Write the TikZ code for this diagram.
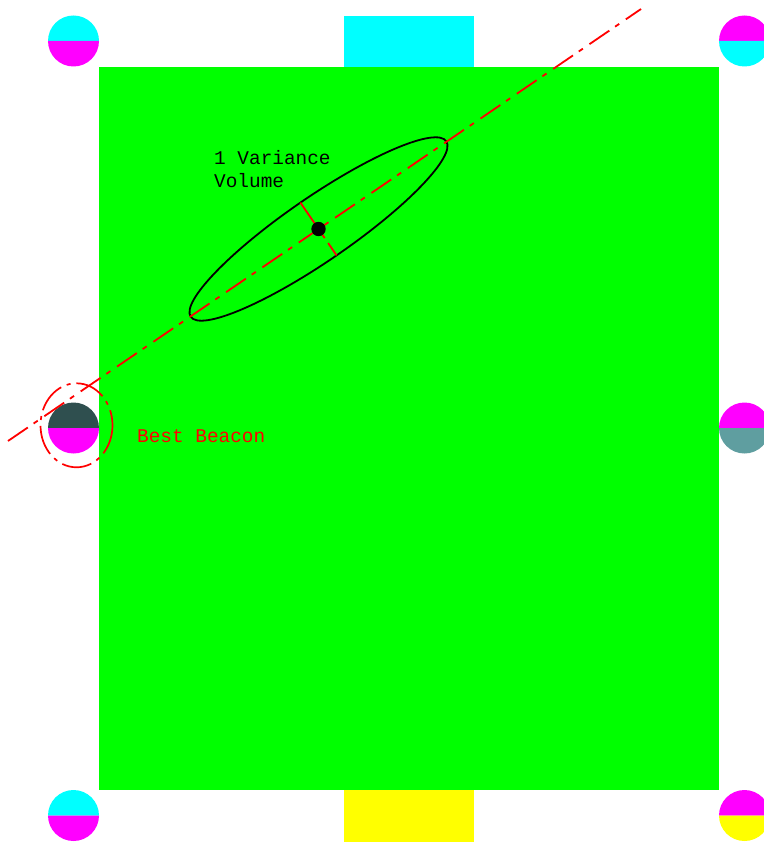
\documentclass[tikz,border=0pt]{standalone}
\usepackage{fontspec}
\setmonofont{Liberation Mono}
\usepackage{xcolor}
\usepackage{tikz}
\usetikzlibrary{
  arrows.meta,
  calc
}
\definecolor{FieldGreen}{HTML}{00FF00}
\definecolor{GoalCyan}{HTML}{00FFFF}
\definecolor{GoalYellow}{HTML}{FFFF00}
\definecolor{BeaconMagenta}{HTML}{FF00FF}
\definecolor{BeaconSlate}{HTML}{2F4F4F}
\definecolor{BeaconCadet}{HTML}{5F9EA0}

\tikzset{
  axisline/.style={red,line width=1.8pt,
                   dash pattern=on 24pt off 7pt on 5pt off 8pt},
  bestring/.style={red,line width=1.7pt,
                   dash pattern=on 30pt off 6pt on 4pt off 6pt},
  monotext/.style={font=\ttfamily\fontsize{19.4}{22.7}\selectfont,
                   inner sep=0pt,align=left}
}

% beacon: name, position, top colour, bottom colour
\newcommand{\beacon}[4]{
  \coordinate (#1) at #2;
  \fill[#3] ($(#1)+(-25.5,0)$) arc[start angle=180,end angle=360,radius=25.5] -- cycle;
  \fill[#4] ($(#1)+(-25.5,0)$) arc[start angle=180,end angle=0,radius=25.5] -- cycle;
}

\begin{document}
\begin{tikzpicture}[x=1pt,y=-1pt]
  \useasboundingbox (0,0) rectangle (763,842);

  % field and goals
  \fill[FieldGreen] (98.5,67) rectangle (719,790);
  \fill[GoalCyan] (344,16) rectangle (473.5,67);
  \fill[GoalYellow] (344,790) rectangle (473.5,841.5);

  % beacons
  \beacon{beaconTL}{(73.5,41)}{GoalCyan}{BeaconMagenta}
  \beacon{beaconTR}{(744.5,41)}{BeaconMagenta}{GoalCyan}
  \beacon{beaconML}{(73.5,428)}{BeaconSlate}{BeaconMagenta}
  \beacon{beaconMR}{(744.5,428)}{BeaconMagenta}{BeaconCadet}
  \beacon{beaconBL}{(73.5,815.5)}{GoalCyan}{BeaconMagenta}
  \beacon{beaconBR}{(744.5,815.5)}{BeaconMagenta}{GoalYellow}

  % best beacon marker
  \draw[bestring] (76.5,425.3) ellipse[x radius=36,y radius=42];
  \node[monotext,text=red,anchor=base west] (bestlabel) at (137,442.7) {Best Beacon};

  % variance ellipse
  \coordinate (estimate) at (318.5,229);
  \coordinate (axisA) at (8,441);
  \coordinate (axisB) at (641,9);
  \draw[line width=1.8pt,rotate around={34.5:(estimate)}]
    (estimate) ellipse[x radius=155,y radius=32];
  \coordinate (minorA) at ($(estimate)+(-18.1,-26.4)$);
  \coordinate (minorB) at ($(estimate)+(18.1,26.4)$);
  \draw[axisline] (axisA) -- (axisB);
  \draw[red,line width=1.8pt,dash pattern=on 34pt off 5pt on 4pt off 6pt on 20pt]
    (minorA) -- (minorB);
  \fill[black] (estimate) circle[radius=7.2];
  \node[monotext,anchor=base west] (varlabel) at (214,187.7) {1 Variance\\Volume};
\end{tikzpicture}
\end{document}
